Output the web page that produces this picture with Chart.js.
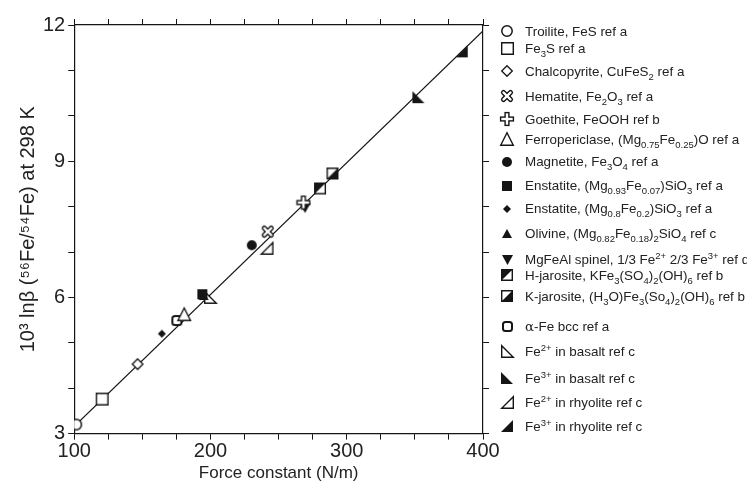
<!DOCTYPE html>
<html>
<head>
<meta charset="utf-8">
<script src="https://cdn.jsdelivr.net/npm/chart.js@4.4.1/dist/chart.umd.min.js"></script>
<style>
  html, body { margin: 0; padding: 0; background: #fff; }
  #wrap { position: relative; width: 747px; height: 497px; overflow: hidden; }
  #legend { position: absolute; left: 0; top: 0; font-family: "Liberation Sans", Arial, sans-serif; font-size: 13.4px; color: #222; }
  .item { position: absolute; left: 498px; white-space: nowrap; display: flex; align-items: center; }
  .item sub, .item sup { font-size: 9.5px; line-height: 0; }
  .greek { font-family: "DejaVu Serif", "Liberation Serif", serif; }
</style>
</head>
<body>
<div id="wrap">
  <canvas id="isoChart" width="747" height="497"></canvas>
  <div id="legend"></div>
</div>
<script>
// values
const minerals = [
  'Troilite, FeS ref a', 'Fe3S ref a', 'Chalcopyrite, CuFeS2 ref a', 'Hematite, Fe2O3 ref a',
  'Goethite, FeOOH ref b', 'Ferropericlase, (Mg0.75Fe0.25)O ref a', 'Magnetite, Fe3O4 ref a',
  'Enstatite, (Mg0.93Fe0.07)SiO3 ref a', 'Enstatite, (Mg0.8Fe0.2)SiO3 ref a',
  'Olivine, (Mg0.82Fe0.18)2SiO4 ref c', 'MgFeAl spinel, 1/3 Fe2+ 2/3 Fe3+ ref d',
  'H-jarosite, KFe3(SO4)2(OH)6 ref b', 'K-jarosite, (H3O)Fe3(So4)2(OH)6 ref b', 'α-Fe bcc ref a',
  'Fe2+ in basalt ref c', 'Fe3+ in basalt ref c', 'Fe2+ in rhyolite ref c', 'Fe3+ in rhyolite ref c'
];
const forceConstants = [101.5, 120.5, 146.5, 242, 268.2, 180.7, 230.3, 194, 164.3, 195, 269.4, 280.4, 289.5, 175.3, 200, 352.6, 241.5, 384.4];
const lnBeta        = [3.2, 3.76, 4.53, 7.45, 8.09, 5.63, 7.15, 6.07, 5.2, 6.03, 7.98, 8.4, 8.73, 5.49, 6.0, 10.41, 7.08, 11.42];
const fitX = [100, 400];
const fitY = [3.16, 11.87];
const xTickLabels = [100, 200, 300, 400];
const yTickLabels = [3, 6, 9, 12];

// legend text with sub/superscripts
const legendLabels = [
  'Troilite, FeS ref a', 'Fe<sub>3</sub>S ref a', 'Chalcopyrite, CuFeS<sub>2</sub> ref a',
  'Hematite, Fe<sub>2</sub>O<sub>3</sub> ref a', 'Goethite, FeOOH ref b',
  'Ferropericlase, (Mg<sub>0.75</sub>Fe<sub>0.25</sub>)O ref a', 'Magnetite, Fe<sub>3</sub>O<sub>4</sub> ref a',
  'Enstatite, (Mg<sub>0.93</sub>Fe<sub>0.07</sub>)SiO<sub>3</sub> ref a',
  'Enstatite, (Mg<sub>0.8</sub>Fe<sub>0.2</sub>)SiO<sub>3</sub> ref a',
  'Olivine, (Mg<sub>0.82</sub>Fe<sub>0.18</sub>)<sub>2</sub>SiO<sub>4</sub> ref c',
  'MgFeAl spinel, 1/3 Fe<sup>2+</sup> 2/3 Fe<sup>3+</sup> ref d',
  'H-jarosite, KFe<sub>3</sub>(SO<sub>4</sub>)<sub>2</sub>(OH)<sub>6</sub> ref b',
  'K-jarosite, (H<sub>3</sub>O)Fe<sub>3</sub>(So<sub>4</sub>)<sub>2</sub>(OH)<sub>6</sub> ref b',
  '<span class="greek">α</span>-Fe bcc ref a',
  'Fe<sup>2+</sup> in basalt ref c', 'Fe<sup>3+</sup> in basalt ref c',
  'Fe<sup>2+</sup> in rhyolite ref c', 'Fe<sup>3+</sup> in rhyolite ref c'
];

// marker look (not data)
const markerKinds = ['circleOpen', 'squareOpen', 'diamondOpen', 'xOpen', 'plusOpen', 'triOpen', 'circleFill',
  'squareFill', 'diamondFill', 'triFill', 'triDownFill', 'halfTL', 'halfBR', 'roundSquare',
  'rtOpenL', 'rtFillL', 'rtOpenR', 'rtFillR'];
const markerSizes = [12, 13, 12, 12, 12, 14, 10, 10, 8, 10, 11, 12, 12, 11, 13, 12, 13, 12];
const legendTops = [32, 49, 72, 97, 120, 139, 163, 187, 210, 235, 261, 276, 297, 328, 352, 379, 403, 427];

const ink = '#151515';

function marker(kind, s) {
  const c = document.createElement('canvas');
  const n = s + 4;
  c.width = n; c.height = n;
  const g = c.getContext('2d');
  const m = n / 2, h = s / 2;
  g.strokeStyle = ink; g.fillStyle = ink; g.lineWidth = 1.4;
  const poly = (pts, fill) => {
    g.beginPath();
    pts.forEach((p, i) => i ? g.lineTo(p[0], p[1]) : g.moveTo(p[0], p[1]));
    g.closePath();
    if (fill) { g.fillStyle = ink; g.fill(); } else { g.fillStyle = '#fff'; g.fill(); g.stroke(); }
  };
  const L = m - h + 0.7, R = m + h - 0.7, T = m - h + 0.7, B = m + h - 0.7;
  switch (kind) {
    case 'circleOpen':
      g.lineWidth = 1.5; g.beginPath(); g.arc(m, m, h - 0.8, 0, Math.PI * 2);
      g.fillStyle = '#fff'; g.fill(); g.stroke(); break;
    case 'circleFill':
      g.beginPath(); g.arc(m, m, h, 0, Math.PI * 2); g.fill(); break;
    case 'squareOpen':
      poly([[L, T], [R, T], [R, B], [L, B]], false); break;
    case 'squareFill':
      poly([[m - h, m - h], [m + h, m - h], [m + h, m + h], [m - h, m + h]], true); break;
    case 'diamondOpen':
      g.lineWidth = 1.3; poly([[m, T], [R, m], [m, B], [L, m]], false); break;
    case 'diamondFill':
      poly([[m, m - h], [m + h, m], [m, m + h], [m - h, m]], true); break;
    case 'triOpen':
      poly([[m, T], [R, B], [L, B]], false); break;
    case 'triFill':
      poly([[m, m - h], [m + h, m + h * 0.8], [m - h, m + h * 0.8]], true); break;
    case 'triDownFill':
      poly([[m - h, m - h * 0.8], [m + h, m - h * 0.8], [m, m + h]], true); break;
    case 'xOpen':
    case 'plusOpen': {
      const a = h - 2.5;
      const segs = kind === 'xOpen'
        ? [[m - a, m - a, m + a, m + a], [m + a, m - a, m - a, m + a]]
        : [[m, m - a - 1, m, m + a + 1], [m - a - 1, m, m + a + 1, m]];
      g.lineCap = kind === 'xOpen' ? 'round' : 'square';
      g.lineWidth = 5.2;
      segs.forEach(s4 => { g.beginPath(); g.moveTo(s4[0], s4[1]); g.lineTo(s4[2], s4[3]); g.stroke(); });
      g.strokeStyle = '#fff'; g.lineWidth = 2.4;
      segs.forEach(s4 => { g.beginPath(); g.moveTo(s4[0], s4[1]); g.lineTo(s4[2], s4[3]); g.stroke(); });
      break;
    }
    case 'halfTL':
      poly([[L, T], [R, T], [R, B], [L, B]], false);
      poly([[L, T], [R, T], [L, B]], true); break;
    case 'halfBR':
      poly([[L, T], [R, T], [R, B], [L, B]], false);
      poly([[R, T], [R, B], [L, B]], true); break;
    case 'roundSquare':
      g.lineWidth = 2; g.beginPath(); g.roundRect(L + 0.3, T + 0.3, R - L - 0.6, B - T - 0.6, 2.5);
      g.fillStyle = '#fff'; g.fill(); g.stroke(); break;
    case 'rtOpenL':
      poly([[L, T], [L, B], [R, B]], false); break;
    case 'rtFillL':
      poly([[m - h, m - h], [m - h, m + h], [m + h, m + h]], true); break;
    case 'rtOpenR':
      poly([[R, T], [R, B], [L, B]], false); break;
    case 'rtFillR':
      poly([[m + h, m - h], [m + h, m + h], [m - h, m + h]], true); break;
  }
  return c;
}

const markers = markerKinds.map((k, i) => marker(k, markerSizes[i]));

Chart.defaults.font.family = '"Liberation Sans", Arial, Helvetica, sans-serif';
Chart.defaults.color = '#222';

const datasets = minerals.map((name, i) => ({
  label: name,
  data: [{ x: forceConstants[i], y: lnBeta[i] }],
  pointStyle: markers[i],
  showLine: false,
  order: 0
}));
datasets.push({
  type: 'line',
  label: 'fit',
  data: fitX.map((x, i) => ({ x: x, y: fitY[i] })),
  borderColor: ink,
  borderWidth: 1.3,
  pointRadius: 0,
  order: 1
});

const gridOpts = { drawOnChartArea: false, drawTicks: true, tickLength: 6, color: ink, lineWidth: 1 };
const borderOpts = { display: true, color: ink, width: 1.2 };

const ctx = document.getElementById('isoChart').getContext('2d');
const isoChart = new Chart(ctx, {
  type: 'scatter',
  data: { datasets: datasets },
  options: {
    responsive: false,
    animation: false,
    devicePixelRatio: 1,
    layout: { padding: { left: 16, right: 258, top: 19, bottom: 13 } },
    plugins: { legend: { display: false }, tooltip: { enabled: false } },
    scales: {
      x: {
        type: 'linear', position: 'bottom', min: 100, max: 400,
        ticks: { stepSize: 25, autoSkip: false, maxRotation: 0, padding: 0, font: { size: 20 },
                 callback: v => xTickLabels.includes(v) ? v : '' },
        grid: gridOpts, border: borderOpts,
        title: { display: true, text: 'Force constant (N/m)', font: { size: 17 }, padding: { top: 0, bottom: 0 } }
      },
      x2: {
        type: 'linear', position: 'top', min: 100, max: 400,
        ticks: { stepSize: 25, display: false },
        grid: gridOpts, border: borderOpts
      },
      y: {
        type: 'linear', position: 'left', min: 3, max: 12,
        ticks: { stepSize: 1, autoSkip: false, padding: 3, font: { size: 20 },
                 callback: v => yTickLabels.includes(v) ? v : '' },
        grid: gridOpts, border: borderOpts,
        title: { display: true, text: '10³ lnβ (⁵⁶Fe/⁵⁴Fe) at 298 K', font: { size: 20 }, padding: { top: 0, bottom: 0 } }
      },
      y2: {
        type: 'linear', position: 'right', min: 3, max: 12,
        ticks: { stepSize: 1, display: false },
        grid: gridOpts, border: borderOpts
      }
    }
  }
});

// html legend so the formulas keep their sub/superscripts
const legendBox = document.getElementById('legend');
legendLabels.forEach((html, i) => {
  const row = document.createElement('div');
  row.className = 'item';
  row.style.top = (legendTops[i] - 9) + 'px';
  const icon = marker(markerKinds[i], markerSizes[i]);
  icon.style.width = icon.width + 'px';
  icon.style.height = icon.height + 'px';
  icon.style.marginLeft = (9 - icon.width / 2) + 'px';
  icon.style.marginRight = (18 - icon.width / 2) + 'px';
  const label = document.createElement('span');
  label.innerHTML = html;
  row.appendChild(icon);
  row.appendChild(label);
  legendBox.appendChild(row);
});
</script>
</body>
</html>
